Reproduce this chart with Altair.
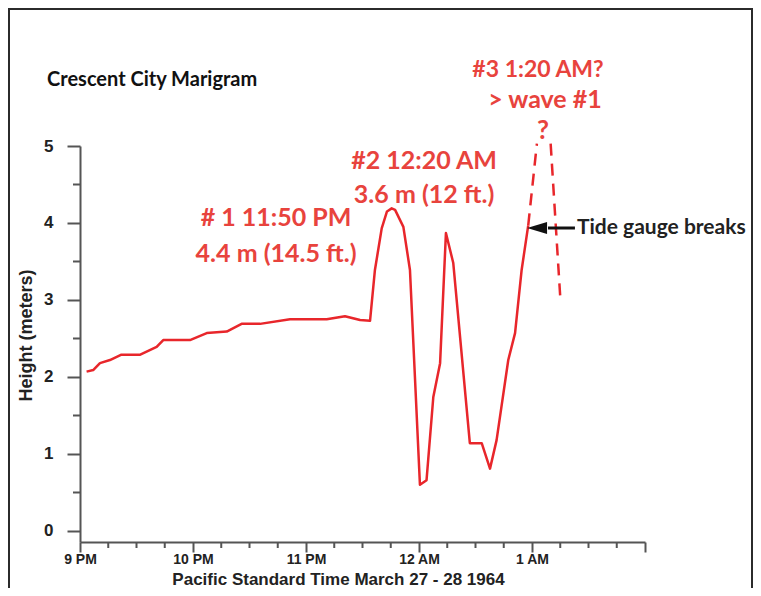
import altair as alt
import pandas as pd

# ---- data (minutes after 9 PM, height in metres) ----
t_main = [3.5, 7, 10.6, 15.9, 22, 32, 40.7, 44.2, 58.4, 67.3, 77.9, 85.8, 95.6, 111.5, 131, 140.7,
          148.7, 154, 156.6, 160.2, 163, 165.5, 167.3, 171.7, 175.2, 180.5, 184, 187.6, 191.2,
          194.3, 198.2, 207, 213.3, 217.7, 221.2, 227.4, 231, 234.5, 238]
h_main = [2.07, 2.09, 2.18, 2.22, 2.29, 2.29, 2.39, 2.48, 2.48, 2.57, 2.59, 2.69, 2.69, 2.75, 2.75, 2.79,
          2.74, 2.73, 3.39, 3.93, 4.15, 4.19, 4.17, 3.95, 3.39, 0.60, 0.66, 1.74, 2.18,
          3.87, 3.48, 1.14, 1.14, 0.81, 1.18, 2.22, 2.57, 3.39, 3.97]

# dashed (extrapolated) segments
dash_seg = ["a", "a", "b", "b"]
dash_t = [238, 242.6, 249.9, 255.2]
dash_h = [3.97, 5.03, 5.03, 2.96]

hour_labels = ["9 PM", "10 PM", "11 PM", "12 AM", "1 AM"]
x_major = [0, 60, 120, 180, 240, 300]
x_minor = [15, 30, 45, 75, 90, 105, 135, 150, 165, 195, 210, 225, 255, 270, 285]
y_major = [0, 1, 2, 3, 4, 5]
y_minor = [0.5, 1.5, 2.5, 3.5, 4.5]

red_texts = ["# 1 11:50 PM", "4.4 m (14.5 ft.)", "#2 12:20 AM", "3.6 m (12 ft.)", "> wave #1"]
red_t = [104.1, 104.1, 182.7, 182.7, 246.9]
red_h = [4.065, 3.60, 4.805, 4.364, 5.60]

red3_text = ["#3 1:20 AM?"]
red3_t = [243.2]
red3_h = [5.987]

q_text = ["?"]
q_t = [245.8]
q_h = [5.2]

note_text = ["Tide gauge breaks"]
note_t = [263.9]
note_h = [3.935]

arrow_t = [248.5]
arrow_t2 = [262.8]
arrow_h = [3.935]
head_t = [242.7]

title_text = ["Crescent City Marigram"]
title_t = [-17.5]
title_h = [5.86]

RED = "#e8262b"
RED_TXT = "#e8433d"
AXC = "#555555"
W, H = 565, 396
TOTAL_W = 745

xs = alt.Scale(domain=[0, 300], nice=False, zero=False)
ys = alt.Scale(domain=[-0.143, 5], nice=False, zero=False)

label_expr_x = ("datum.value < 300 ? " + str(hour_labels) + "[datum.value/60] : ''")

x_axis = alt.Axis(values=x_major, labelExpr=label_expr_x, grid=False, tickSize=10,
                  domainColor=AXC, domainWidth=2, tickColor=AXC, tickWidth=2,
                  labelFont="Liberation Sans", labelFontSize=14, labelFontWeight="bold", labelColor="#222",
                  labelPadding=0, labelFlush=False,
                  title="Pacific Standard Time March 27 - 28 1964", titleFont="Liberation Sans",
                  titleFontSize=17, titleFontWeight="bold", titleColor="#222",
                  titleX=258, titleY=42, titleBaseline="alphabetic", titleAlign="center")
y_axis = alt.Axis(values=y_major, format=".0f", grid=False, tickSize=13,
                  domainColor=AXC, domainWidth=2, tickColor=AXC, tickWidth=2,
                  labelFont="Liberation Sans", labelFontSize=17, labelFontWeight="bold", labelColor="#222",
                  labelPadding=14, labelFlush=False,
                  title="Height (meters)", titleFont="Liberation Sans", titleFontSize=18,
                  titleFontWeight="bold", titleColor="#222", titlePadding=8, titleY=189)

main_df = pd.DataFrame({"t": t_main, "h": h_main})
dash_df = pd.DataFrame({"seg": dash_seg, "t": dash_t, "h": dash_h})

one = pd.DataFrame({"a": [0]})
frame = alt.Chart(one).mark_rect(filled=False, stroke="#2b2b2b", strokeWidth=2).encode(
    x=alt.value(-71), x2=alt.value(TOTAL_W - 72 - 1), y=alt.value(-137), y2=alt.value(600))

xminor = alt.Chart(pd.DataFrame({"t": x_minor})).mark_rule(color=AXC, strokeWidth=2).encode(
    x=alt.X("t:Q", scale=xs), y=alt.value(H), y2=alt.value(H + 6))
yminor = alt.Chart(pd.DataFrame({"h": y_minor})).mark_rule(color=AXC, strokeWidth=2).encode(
    y=alt.Y("h:Q", scale=ys), x=alt.value(-7), x2=alt.value(0))

line = alt.Chart(main_df).mark_line(color=RED, strokeWidth=2.5, strokeJoin="round").encode(
    x=alt.X("t:Q", scale=xs, axis=x_axis),
    y=alt.Y("h:Q", scale=ys, axis=y_axis))

dashed = alt.Chart(dash_df).mark_line(color=RED, strokeWidth=2.5, strokeDash=[12, 8]).encode(
    x=alt.X("t:Q", scale=xs), y=alt.Y("h:Q", scale=ys), detail="seg:N")

red_df = pd.DataFrame({"txt": red_texts, "t": red_t, "h": red_h})
red = alt.Chart(red_df).mark_text(color=RED_TXT, font="Lato", fontSize=25, fontWeight="bold",
                                  align="center", baseline="middle").encode(
    x=alt.X("t:Q", scale=xs), y=alt.Y("h:Q", scale=ys), text="txt:N")

red3_df = pd.DataFrame({"txt": red3_text, "t": red3_t, "h": red3_h})
red3 = alt.Chart(red3_df).mark_text(color=RED_TXT, font="Lato", fontSize=23, fontWeight="bold",
                                    align="center", baseline="middle").encode(
    x=alt.X("t:Q", scale=xs), y=alt.Y("h:Q", scale=ys), text="txt:N")

q_df = pd.DataFrame({"txt": q_text, "t": q_t, "h": q_h})
q = alt.Chart(q_df).mark_text(color=RED_TXT, font="Lato", fontSize=26, fontWeight="bold",
                              align="center", baseline="middle").encode(
    x=alt.X("t:Q", scale=xs), y=alt.Y("h:Q", scale=ys), text="txt:N")

note_df = pd.DataFrame({"txt": note_text, "t": note_t, "h": note_h})
note = alt.Chart(note_df).mark_text(color="#222", font="Lato", fontSize=21, fontWeight="bold",
                                    align="left", baseline="middle").encode(
    x=alt.X("t:Q", scale=xs), y=alt.Y("h:Q", scale=ys), text="txt:N")

arrow_df = pd.DataFrame({"t": arrow_t, "t2": arrow_t2, "h": arrow_h, "th": head_t})
arrow = alt.Chart(arrow_df).mark_rule(color="#111", strokeWidth=3).encode(
    x=alt.X("t:Q", scale=xs), x2="t2:Q", y=alt.Y("h:Q", scale=ys))
head = alt.Chart(arrow_df).mark_point(shape="M -1 0 L 1 -0.6 L 1 0.6 Z", size=400, filled=True,
                                      color="#111", opacity=1).encode(
    x=alt.X("th:Q", scale=xs), y=alt.Y("h:Q", scale=ys))

title_df = pd.DataFrame({"txt": title_text, "t": title_t, "h": title_h})
title = alt.Chart(title_df).mark_text(color="#111", font="Lato", fontSize=20, fontWeight="bold",
                                      align="left", baseline="middle").encode(
    x=alt.X("t:Q", scale=xs), y=alt.Y("h:Q", scale=ys), text="txt:N")

chart = alt.layer(frame, xminor, yminor, line, dashed, red, red3, q, note, arrow, head, title).properties(
    width=W, height=H,
    padding={"left": 72, "top": 138, "right": TOTAL_W - 72 - W, "bottom": 46},
    autosize=alt.AutoSizeParams(type="none"),
    background="white",
).configure_view(stroke=None)

chart.save("out.html", embed_options={"renderer": "svg", "actions": False})
